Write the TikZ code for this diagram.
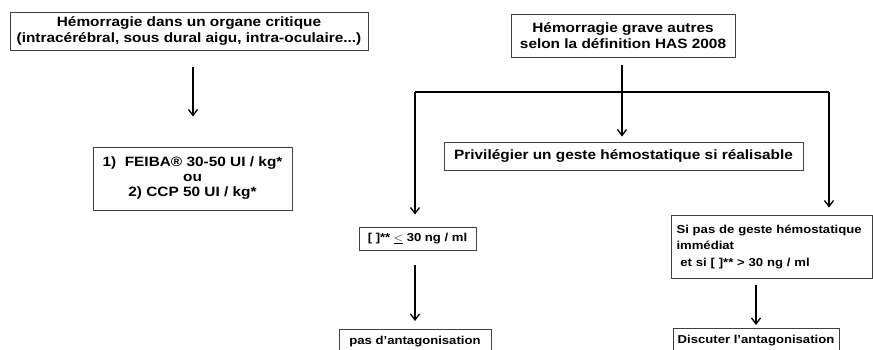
\documentclass[tikz,border=0pt]{standalone}
\usepackage{fontspec}
\setmainfont{Liberation Sans}[FakeStretch=1.14]
\usetikzlibrary{arrows.meta}
\begin{document}
\begin{tikzpicture}[x=1pt,y=-1pt,
  box/.style={draw=black!75, line width=0.9pt, align=center, inner sep=0pt, font=\bfseries\fontsize{13.5}{15.5}\selectfont},
  sbox/.style={draw=black!75, line width=0.9pt, align=center, inner sep=0pt, font=\bfseries\fontsize{11.5}{16.5}\selectfont},
  arr/.style={line width=1.3pt, -{Straight Barb[length=6pt,width=9pt,line width=1.3pt]}},
  ln/.style={line width=1.6pt}]
\useasboundingbox (0,0) rectangle (873,349);
\node[box, minimum width=358pt, minimum height=38pt] (A) at (189,31)
  {Hémorragie dans un organe critique\\(intracérébral, sous dural aigu, intra-oculaire...)};
\node[box, minimum width=199pt, minimum height=63pt, font=\bfseries\fontsize{13.5}{15}\selectfont] (F) at (192.5,178.5)
  {1)\ \ FEIBA® 30-50 UI / kg*\\ou\\2) CCP 50 UI / kg*};
\node[box, minimum width=224pt, minimum height=43pt] (B) at (623,35.5)
  {Hémorragie grave autres\\selon la définition HAS 2008};
\node[box, minimum width=359pt, minimum height=28pt] (P) at (623.5,156)
  {Privilégier un geste hémostatique si réalisable};
\node[sbox, minimum width=117pt, minimum height=23pt] (L) at (417.5,238.5)
  {[ ]** $\underline{<}$ 30 ng / ml};
\node[sbox, minimum width=152pt, minimum height=24pt, anchor=north] (N) at (415,329)
  {pas d'antagonisation};
\node[sbox, minimum width=201pt, minimum height=63pt, align=left, text width=190pt] (R) at (771.5,246.5)
  {Si pas de geste hémostatique\\immédiat\\\ et si [ ]** > 30 ng / ml};
\node[sbox, minimum width=166pt, minimum height=24pt, anchor=north] (D) at (756,328)
  {Discuter l'antagonisation};
\coordinate (t0) at (622,65);
\coordinate (hl) at (415,92);
\coordinate (hr) at (829,92);
\coordinate (a0) at (193,67);
\draw[arr, shorten >=30pt] (a0) -- (a0 |- F.north);
\draw[ln] (t0) -- (t0 |- hl);
\draw[ln] (hl) -- (hr);
\draw[arr, shorten >=5pt] (t0 |- hl) -- (t0 |- P.north);
\draw[arr, shorten >=12pt] (hl) -- (hl |- L.north);
\draw[arr, shorten >=7pt] (hr) -- (hr |- R.north);
\draw[arr, shorten <=15pt, shorten >=8pt] (L.south -| N.north) -- (N.north);
\draw[arr, shorten <=7pt, shorten >=3pt] (R.south -| D.north) -- (D.north);
\end{tikzpicture}
\end{document}
